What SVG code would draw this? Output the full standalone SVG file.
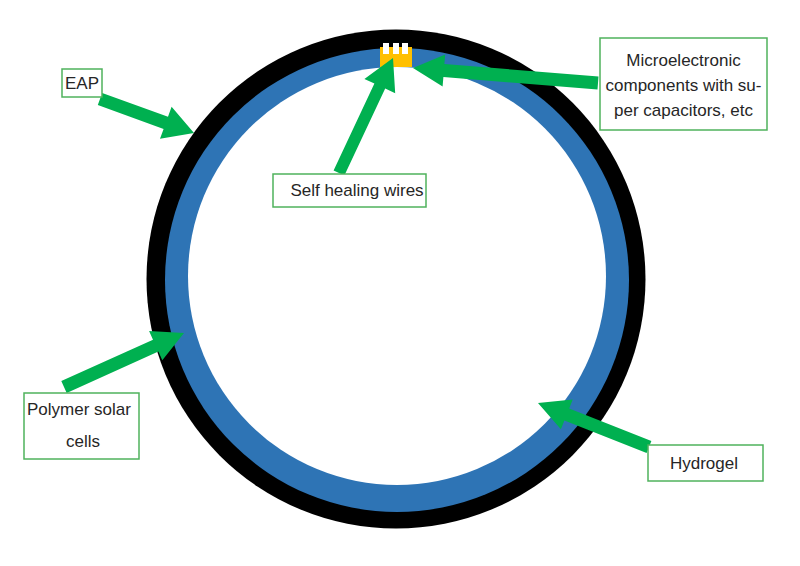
<svg xmlns="http://www.w3.org/2000/svg" width="800" height="566" viewBox="0 0 800 566">
<style>
.box{fill:#fff;stroke:#4fb25c;stroke-width:1.5}
.lbl{font-family:"Liberation Sans",Arial,sans-serif;font-size:17px;fill:#262626;text-anchor:middle}
.arr{fill:#00b050}
</style>
<rect width="800" height="566" fill="#fff"/>
<g id="ring">
<circle cx="396" cy="279" r="249.5" fill="#000"/>
<circle cx="397" cy="280" r="232" fill="#2e74b5"/>
<circle cx="397" cy="276" r="209" fill="#fff"/>
</g>
<g id="chip">
<rect x="380" y="47" width="32" height="20" fill="#ffc000"/>
<rect x="383" y="43" width="6" height="11" fill="#fff"/>
<rect x="393" y="43" width="6" height="11" fill="#fff"/>
<rect x="402" y="43" width="6" height="11" fill="#fff"/>
</g>
<g id="connectors">
<polygon class="arr" points="97.8,105.1 163.6,128.9 160,138.8 194,133 171.6,106.8 168,116.7 102.2,92.9"/>
<polygon class="arr" points="344.4,175.6 385.2,88.6 395.2,93.3 393,58 364.4,78.9 374.4,83.6 333.6,170.5"/>
<polygon class="arr" points="598.5,76.5 444.4,64 445.2,54.6 413,68 442.6,86.5 443.4,77 597.5,89.5"/>
<polygon class="arr" points="66.7,392.9 158.4,351.6 162.3,360.3 184,333 149.1,331.1 153,339.8 61.3,381.1"/>
<polygon class="arr" points="651.4,441 569.2,408.4 572.7,399.5 538,403 560.9,429.3 564.4,420.5 646.6,453.1"/>
</g>
<g id="eap">
<rect class="box" x="62" y="69" width="40" height="28"/>
<text class="lbl" x="82" y="89">EAP</text>
</g>
<g id="micro">
<rect class="box" x="600" y="38" width="167" height="92"/>
<text class="lbl" x="683.5" y="66">Microelectronic</text>
<text class="lbl" x="683.5" y="91">components with su-</text>
<text class="lbl" x="683.5" y="116">per capacitors, etc</text>
</g>
<g id="wires">
<rect class="box" x="273" y="174" width="153" height="33"/>
<text class="lbl" x="357" y="196">Self healing wires</text>
</g>
<g id="solar">
<rect class="box" x="24" y="393" width="115" height="66"/>
<text class="lbl" x="79" y="415">Polymer solar</text>
<text class="lbl" x="83" y="447">cells</text>
</g>
<g id="hydrogel">
<rect class="box" x="648" y="445" width="115" height="36"/>
<text class="lbl" x="704" y="469">Hydrogel</text>
</g>
</svg>
